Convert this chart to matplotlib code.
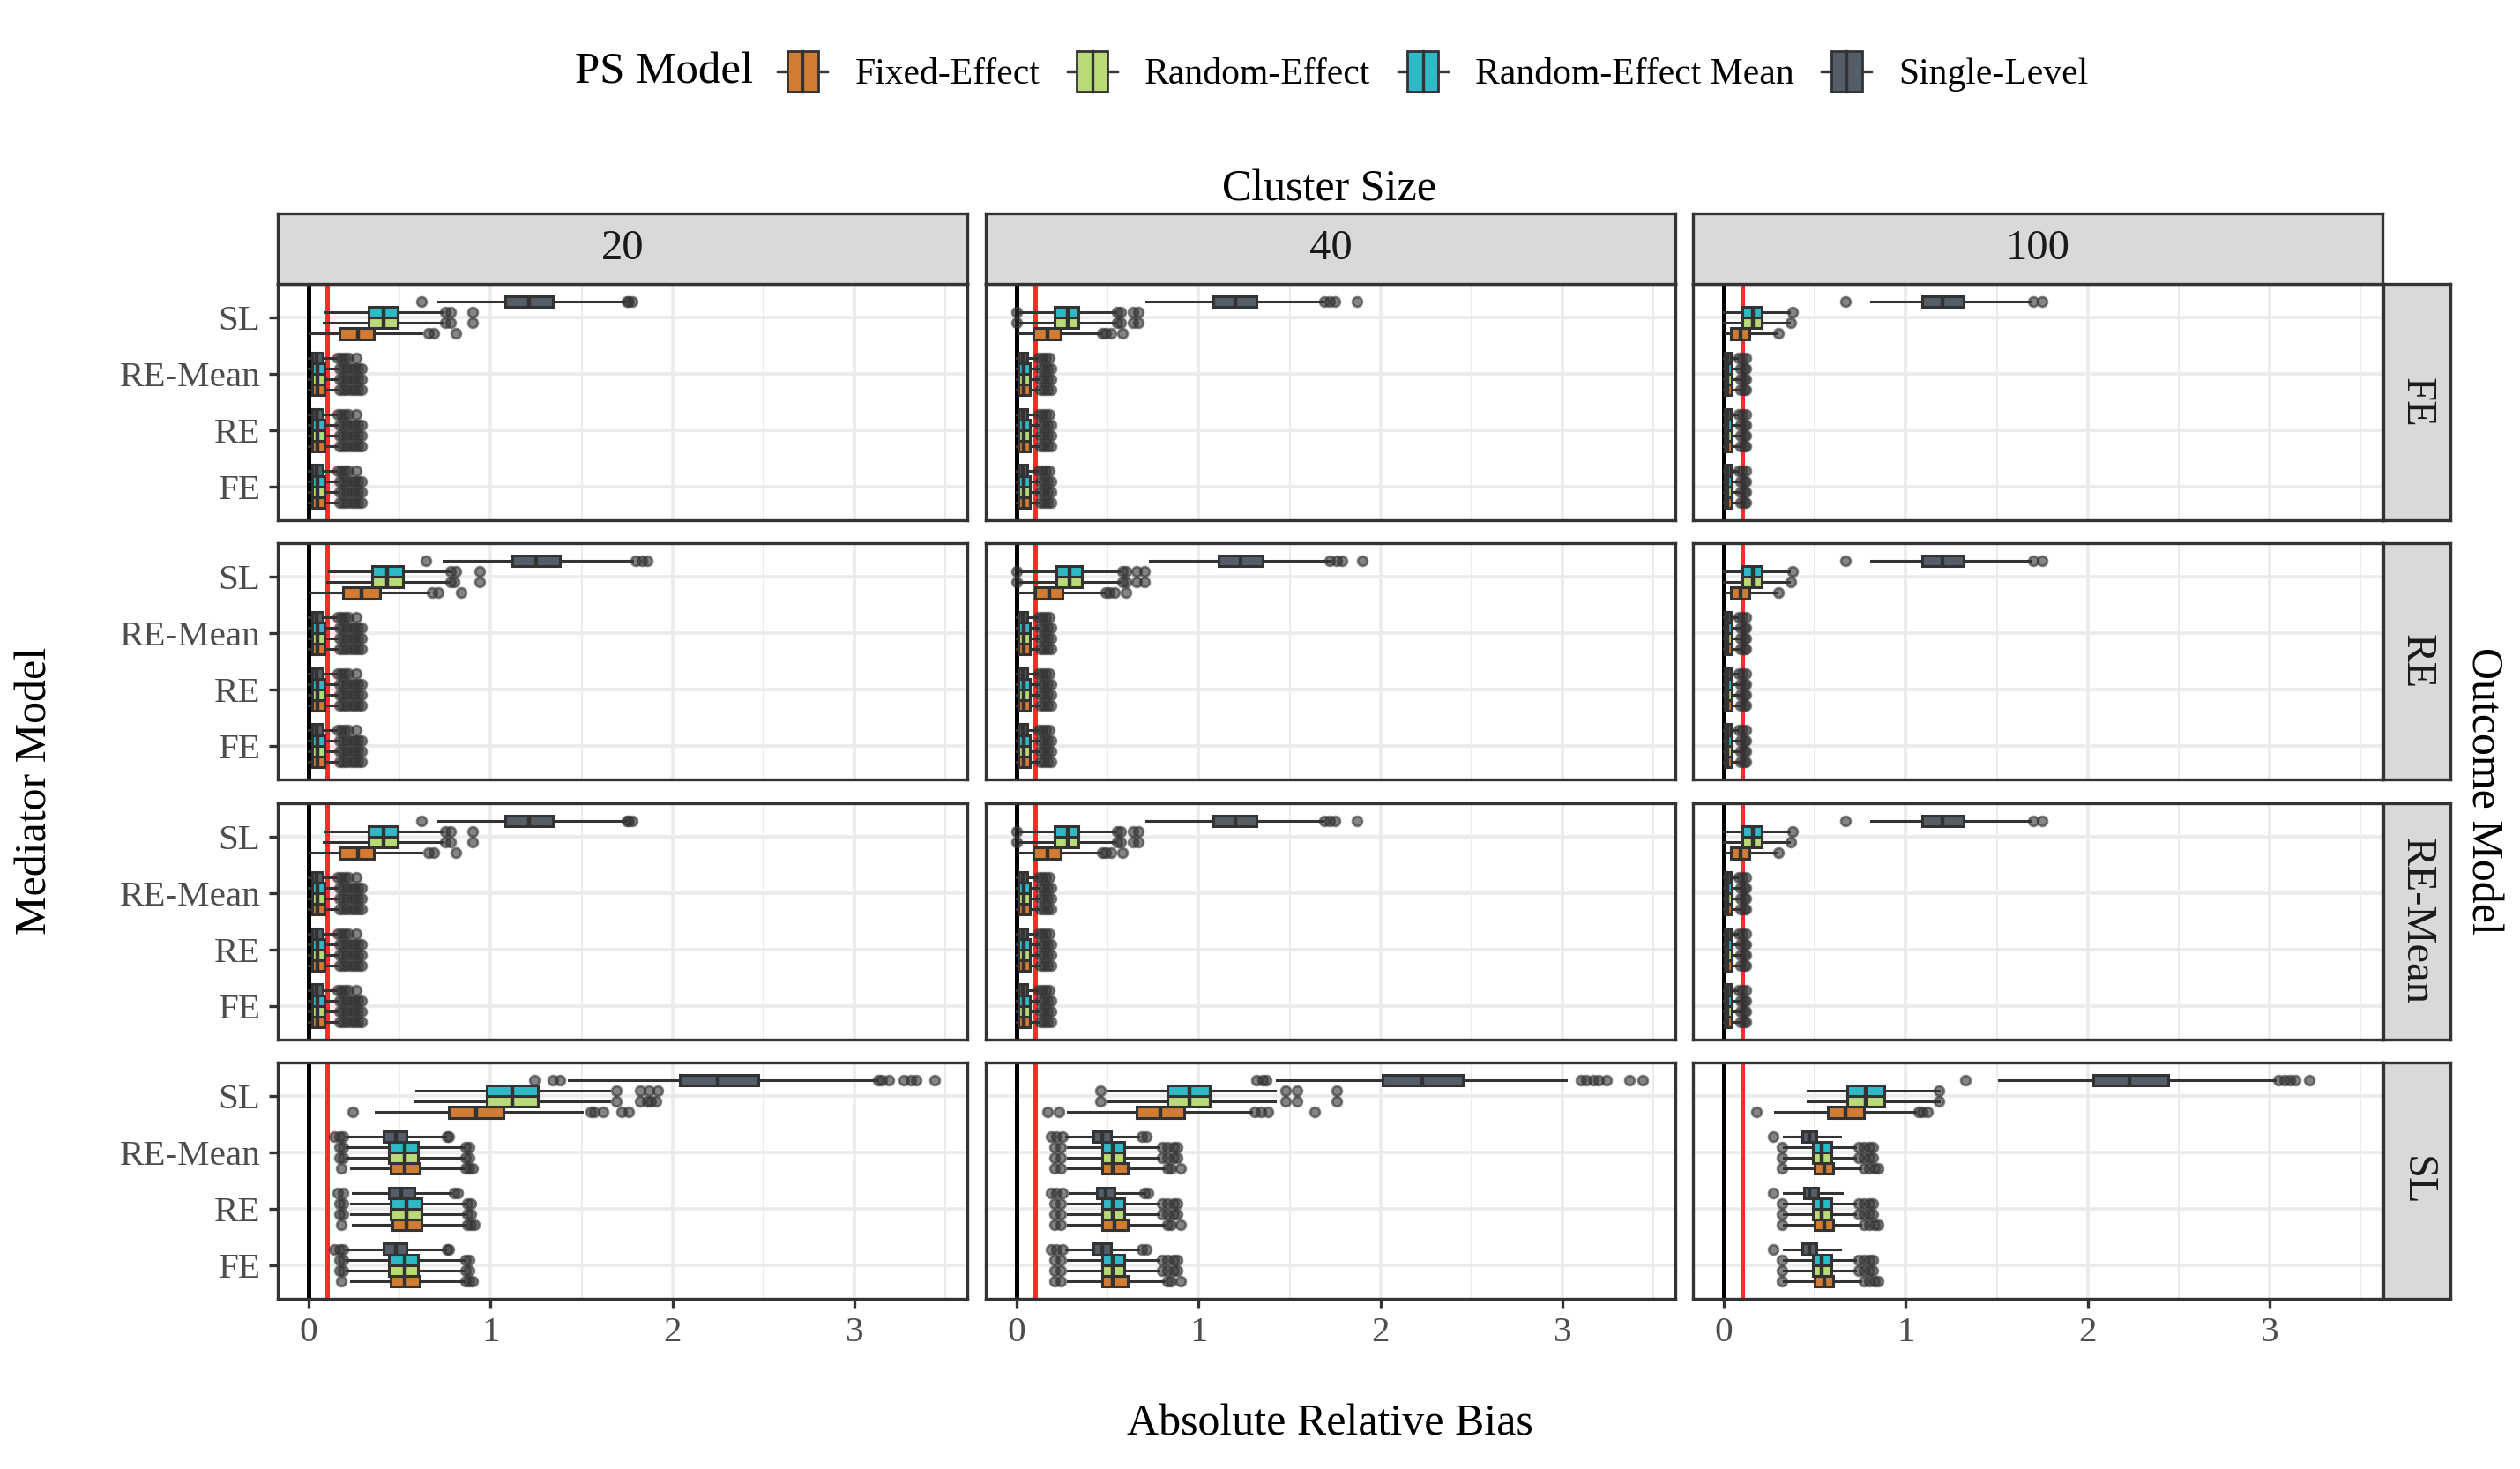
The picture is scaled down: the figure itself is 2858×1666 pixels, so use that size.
import numpy as np
import matplotlib.pyplot as plt
from matplotlib.patches import Rectangle
from matplotlib.lines import Line2D
from matplotlib.legend_handler import HandlerBase

plt.rcParams['font.family'] = ['Liberation Serif', 'DejaVu Serif']

cluster_sizes = ["20", "40", "100"]
outcome_models = ["FE", "RE", "RE-Mean", "SL"]
mediator_models = ["FE", "RE", "RE-Mean", "SL"]
ps_models = ["Fixed-Effect", "Random-Effect", "Random-Effect Mean", "Single-Level"]
ps_colors = ["#D27B33", "#BAD977", "#2FB8C6", "#555D67"]

# box summaries: [lower whisker, Q1, median, Q3, upper whisker]
# mediator = SL, indexed [outcome][cluster][ps model]
sl_mediator_box = [
    [[[0.01, 0.17, 0.27, 0.36, 0.62], [0.08, 0.33, 0.41, 0.49, 0.73], [0.09, 0.33, 0.41, 0.49, 0.73], [0.71, 1.08, 1.21, 1.34, 1.74]],
     [[0.01, 0.09, 0.17, 0.24, 0.46], [0.02, 0.21, 0.28, 0.34, 0.54], [0.02, 0.21, 0.28, 0.34, 0.54], [0.71, 1.08, 1.20, 1.32, 1.68]],
     [[0.01, 0.04, 0.09, 0.14, 0.29], [0.00, 0.10, 0.16, 0.21, 0.36], [0.00, 0.10, 0.16, 0.21, 0.36], [0.81, 1.09, 1.20, 1.32, 1.68]]],
    [[[0.01, 0.19, 0.29, 0.39, 0.66], [0.10, 0.35, 0.43, 0.52, 0.77], [0.11, 0.35, 0.43, 0.52, 0.77], [0.74, 1.12, 1.25, 1.38, 1.78]],
     [[0.01, 0.10, 0.18, 0.25, 0.48], [0.02, 0.22, 0.29, 0.36, 0.56], [0.02, 0.22, 0.29, 0.36, 0.56], [0.73, 1.11, 1.23, 1.35, 1.72]],
     [[0.01, 0.04, 0.09, 0.14, 0.29], [0.00, 0.10, 0.16, 0.21, 0.36], [0.00, 0.10, 0.16, 0.21, 0.36], [0.81, 1.09, 1.20, 1.32, 1.68]]],
    [[[0.01, 0.17, 0.27, 0.36, 0.62], [0.08, 0.33, 0.41, 0.49, 0.73], [0.09, 0.33, 0.41, 0.49, 0.73], [0.71, 1.08, 1.21, 1.34, 1.74]],
     [[0.01, 0.09, 0.17, 0.24, 0.46], [0.02, 0.21, 0.28, 0.34, 0.54], [0.02, 0.21, 0.28, 0.34, 0.54], [0.71, 1.08, 1.20, 1.32, 1.68]],
     [[0.01, 0.04, 0.09, 0.14, 0.29], [0.00, 0.10, 0.16, 0.21, 0.36], [0.00, 0.10, 0.16, 0.21, 0.36], [0.81, 1.09, 1.20, 1.32, 1.68]]],
    [[[0.37, 0.77, 0.92, 1.07, 1.50], [0.58, 0.98, 1.12, 1.26, 1.65], [0.59, 0.98, 1.12, 1.26, 1.65], [1.43, 2.04, 2.25, 2.47, 3.12]],
     [[0.28, 0.66, 0.79, 0.92, 1.29], [0.50, 0.83, 0.95, 1.06, 1.42], [0.50, 0.83, 0.95, 1.06, 1.42], [1.43, 2.01, 2.23, 2.45, 3.02]],
     [[0.28, 0.57, 0.67, 0.77, 1.05], [0.46, 0.68, 0.78, 0.88, 1.18], [0.46, 0.68, 0.78, 0.88, 1.18], [1.51, 2.03, 2.23, 2.44, 3.03]]],
]
sl_mediator_out = [
    [[[0.66, 0.69, 0.81], [0.75, 0.78, 0.90], [0.75, 0.78, 0.90], [0.62, 1.75, 1.76, 1.78]],
     [[0.47, 0.49, 0.52, 0.58], [0.0, 0.55, 0.57, 0.64, 0.67], [0.0, 0.55, 0.57, 0.64, 0.67], [1.69, 1.72, 1.75, 1.87]],
     [[0.30], [0.37], [0.38], [0.67, 1.70, 1.75]]],
    [[[0.68, 0.71, 0.84], [0.78, 0.80, 0.94], [0.78, 0.81, 0.94], [0.645, 1.80, 1.83, 1.86]],
     [[0.49, 0.51, 0.54, 0.60], [0.0, 0.58, 0.60, 0.66, 0.70], [0.0, 0.58, 0.60, 0.66, 0.70], [1.72, 1.76, 1.79, 1.90]],
     [[0.30], [0.37], [0.38], [0.67, 1.70, 1.75]]],
    [[[0.66, 0.69, 0.81], [0.75, 0.78, 0.90], [0.75, 0.78, 0.90], [0.62, 1.75, 1.76, 1.78]],
     [[0.47, 0.49, 0.52, 0.58], [0.0, 0.55, 0.57, 0.64, 0.67], [0.0, 0.55, 0.57, 0.64, 0.67], [1.69, 1.72, 1.75, 1.87]],
     [[0.30], [0.37], [0.38], [0.67, 1.70, 1.75]]],
    [[[0.24, 1.55, 1.57, 1.62, 1.72, 1.76], [1.69, 1.82, 1.86, 1.88, 1.91], [1.69, 1.82, 1.87, 1.92],
      [1.24, 1.34, 1.38, 3.13, 3.15, 3.19, 3.27, 3.31, 3.34, 3.44]],
     [[0.17, 0.23, 1.31, 1.34, 1.38, 1.64], [0.46, 1.48, 1.54, 1.76], [0.46, 1.48, 1.54, 1.76],
      [1.32, 1.35, 1.37, 3.10, 3.13, 3.17, 3.20, 3.24, 3.37, 3.44]],
     [[0.18, 1.07, 1.09, 1.12], [1.18], [1.18], [1.33, 3.05, 3.08, 3.11, 3.14, 3.22]]],
]

# mediators FE / RE / RE-Mean under outcomes FE / RE / RE-Mean, [cluster][ps model]
small_box = [
    [[0.0, 0.02, 0.05, 0.085, 0.16], [0.0, 0.02, 0.05, 0.085, 0.16], [0.0, 0.02, 0.05, 0.085, 0.16], [0.0, 0.02, 0.045, 0.075, 0.15]],
    [[0.0, 0.01, 0.04, 0.07, 0.12], [0.0, 0.01, 0.04, 0.07, 0.12], [0.0, 0.01, 0.04, 0.07, 0.12], [0.0, 0.01, 0.035, 0.06, 0.11]],
    [[0.0, 0.005, 0.02, 0.045, 0.08], [0.0, 0.005, 0.02, 0.045, 0.08], [0.0, 0.005, 0.02, 0.045, 0.08], [0.0, 0.005, 0.02, 0.04, 0.07]],
]
small_out = [
    [[0.17, 0.19, 0.21, 0.23, 0.25, 0.27, 0.29], [0.17, 0.19, 0.21, 0.23, 0.25, 0.27, 0.29],
     [0.17, 0.19, 0.21, 0.23, 0.25, 0.27, 0.29], [0.16, 0.18, 0.20, 0.22, 0.26]],
    [[0.13, 0.15, 0.17, 0.19], [0.13, 0.15, 0.17, 0.19], [0.13, 0.15, 0.17, 0.19], [0.12, 0.14, 0.16, 0.18]],
    [[0.09, 0.11, 0.12], [0.09, 0.11, 0.12], [0.09, 0.11, 0.12], [0.08, 0.10, 0.12]],
]

# outcome SL, mediators FE / RE / RE-Mean, [cluster][mediator][ps model]
sl_outcome_box = [
    [[[0.23, 0.45, 0.53, 0.61, 0.85], [0.21, 0.44, 0.53, 0.60, 0.85], [0.21, 0.44, 0.53, 0.60, 0.85], [0.21, 0.41, 0.48, 0.54, 0.75]],
     [[0.24, 0.46, 0.54, 0.62, 0.86], [0.23, 0.45, 0.54, 0.62, 0.86], [0.23, 0.45, 0.54, 0.62, 0.86], [0.24, 0.44, 0.51, 0.58, 0.78]],
     [[0.23, 0.45, 0.53, 0.61, 0.85], [0.21, 0.44, 0.53, 0.60, 0.85], [0.21, 0.44, 0.53, 0.60, 0.85], [0.21, 0.41, 0.48, 0.54, 0.75]]],
    [[[0.28, 0.47, 0.53, 0.61, 0.81], [0.28, 0.47, 0.53, 0.59, 0.78], [0.28, 0.47, 0.53, 0.59, 0.78], [0.27, 0.42, 0.47, 0.52, 0.67]],
     [[0.28, 0.47, 0.54, 0.61, 0.81], [0.28, 0.47, 0.53, 0.59, 0.78], [0.28, 0.47, 0.53, 0.59, 0.78], [0.29, 0.44, 0.49, 0.54, 0.70]],
     [[0.28, 0.47, 0.53, 0.61, 0.81], [0.28, 0.47, 0.53, 0.59, 0.78], [0.28, 0.47, 0.53, 0.59, 0.78], [0.27, 0.42, 0.47, 0.52, 0.67]]],
    [[[0.33, 0.50, 0.55, 0.60, 0.75], [0.33, 0.49, 0.54, 0.59, 0.72], [0.33, 0.49, 0.54, 0.59, 0.72], [0.33, 0.43, 0.47, 0.51, 0.64]],
     [[0.33, 0.50, 0.55, 0.60, 0.75], [0.33, 0.49, 0.54, 0.59, 0.72], [0.33, 0.49, 0.54, 0.59, 0.72], [0.33, 0.44, 0.47, 0.52, 0.65]],
     [[0.33, 0.50, 0.55, 0.60, 0.75], [0.33, 0.49, 0.54, 0.59, 0.72], [0.33, 0.49, 0.54, 0.59, 0.72], [0.33, 0.43, 0.47, 0.51, 0.64]]],
]
sl_outcome_out = [
    [[[0.18, 0.86, 0.88, 0.90], [0.17, 0.19, 0.86, 0.88], [0.17, 0.19, 0.86, 0.88], [0.14, 0.17, 0.19, 0.76, 0.77]],
     [[0.18, 0.87, 0.89, 0.91], [0.17, 0.19, 0.87, 0.89], [0.17, 0.19, 0.87, 0.89], [0.16, 0.19, 0.80, 0.82]],
     [[0.18, 0.86, 0.88, 0.90], [0.17, 0.19, 0.86, 0.88], [0.17, 0.19, 0.86, 0.88], [0.14, 0.17, 0.19, 0.76, 0.77]]],
    [[[0.21, 0.24, 0.83, 0.85, 0.90], [0.21, 0.24, 0.80, 0.83, 0.86, 0.88], [0.21, 0.24, 0.80, 0.83, 0.86, 0.88], [0.19, 0.22, 0.25, 0.69, 0.71]],
     [[0.21, 0.24, 0.83, 0.85, 0.90], [0.21, 0.24, 0.80, 0.83, 0.86, 0.88], [0.21, 0.24, 0.80, 0.83, 0.86, 0.88], [0.19, 0.22, 0.25, 0.70, 0.72]],
     [[0.21, 0.24, 0.83, 0.85, 0.90], [0.21, 0.24, 0.80, 0.83, 0.86, 0.88], [0.21, 0.24, 0.80, 0.83, 0.86, 0.88], [0.19, 0.22, 0.25, 0.69, 0.71]]],
    [[[0.32, 0.77, 0.80, 0.83, 0.85], [0.32, 0.74, 0.77, 0.80, 0.82], [0.32, 0.74, 0.77, 0.80, 0.82], [0.27]],
     [[0.32, 0.77, 0.80, 0.83, 0.85], [0.32, 0.74, 0.77, 0.80, 0.82], [0.32, 0.74, 0.77, 0.80, 0.82], [0.27]],
     [[0.32, 0.77, 0.80, 0.83, 0.85], [0.32, 0.74, 0.77, 0.80, 0.82], [0.32, 0.74, 0.77, 0.80, 0.82], [0.27]]],
]


def box_for(i, j, k, p):
    # i outcome, j cluster, k mediator, p ps model
    if k == 3:
        return sl_mediator_box[i][j][p], sl_mediator_out[i][j][p]
    if i == 3:
        return sl_outcome_box[j][k][p], sl_outcome_out[j][k][p]
    return small_box[j][p], small_out[j][p]


# layout in pixels of the 2858 x 1666 image
W, H = 2858, 1666
col_left = [315, 1118, 1920]
row_top = [322, 616, 911, 1205]
panel_w, panel_h = 782, 268


def rect(left, top, w, h):
    return [left / W, 1 - (top + h) / H, w / W, h / H]


dark = "#333333"
offsets = [-0.285, -0.095, 0.095, 0.285]

fig = plt.figure(figsize=(W / 200, H / 200), dpi=200)

for i in range(4):
    for j in range(3):
        ax = fig.add_axes(rect(col_left[j], row_top[i], panel_w, panel_h))
        for p in range(4):
            stats = []
            pos = []
            for k in range(4):
                b, o = box_for(i, j, k, p)
                stats.append(dict(whislo=b[0], q1=b[1], med=b[2], q3=b[3], whishi=b[4], fliers=o))
                pos.append(k + 1 + offsets[p])
            ax.bxp(stats, positions=pos, widths=0.19, orientation='horizontal', patch_artist=True,
                   showcaps=False, manage_ticks=False,
                   boxprops=dict(facecolor=ps_colors[p], edgecolor=dark, linewidth=1.1),
                   medianprops=dict(color=dark, linewidth=1.6),
                   whiskerprops=dict(color=dark, linewidth=1.1),
                   flierprops=dict(marker='o', markerfacecolor=dark, markeredgecolor=dark,
                                   markersize=3.9, alpha=0.6))
        ax.axvline(0, color='black', lw=1.8, zorder=1.5)
        ax.axvline(0.1, color='#FF2B2B', lw=1.8, zorder=1.5)

        ax.set_xlim(-0.17, 3.62)
        ax.set_ylim(0.4, 4.6)
        ax.set_xticks([0, 1, 2, 3])
        ax.set_xticks([0.5, 1.5, 2.5, 3.5], minor=True)
        ax.set_yticks([1, 2, 3, 4])
        ax.set_axisbelow(True)
        ax.grid(which='major', color='#EBEBEB', lw=1.3)
        ax.grid(which='minor', axis='x', color='#EBEBEB', lw=0.7)
        for s in ax.spines.values():
            s.set_color(dark)
            s.set_linewidth(1.2)
        ax.tick_params(which='minor', length=0)
        ax.tick_params(which='major', length=3.6, width=1.2, color=dark, labelcolor='#4D4D4D',
                       labelsize=14.8, pad=3.5, left=(j == 0), bottom=(i == 3),
                       labelleft=(j == 0), labelbottom=(i == 3))
        if j == 0:
            ax.set_yticklabels(mediator_models)
        if i == 3:
            ax.set_xticklabels(["0", "1", "2", "3"])

# facet strips
for j, cl in enumerate(cluster_sizes):
    sax = fig.add_axes(rect(col_left[j], 242, panel_w, 80))
    sax.set_facecolor('#D9D9D9')
    sax.set_xticks([])
    sax.set_yticks([])
    for s in sax.spines.values():
        s.set_color(dark)
        s.set_linewidth(1.2)
    sax.text(0.5, 0.5, cl, ha='center', va='center', fontsize=17.5, color='#1A1A1A',
             transform=sax.transAxes)

for i, om in enumerate(outcome_models):
    rax = fig.add_axes(rect(2703, row_top[i], 76, panel_h))
    rax.set_facecolor('#D9D9D9')
    rax.set_xticks([])
    rax.set_yticks([])
    for s in rax.spines.values():
        s.set_color(dark)
        s.set_linewidth(1.2)
    rax.text(0.5, 0.5, om, ha='center', va='center', rotation=-90, fontsize=17.5,
             color='#1A1A1A', transform=rax.transAxes)

# titles
fig.text(1508 / W, 1 - 215 / H, "Cluster Size", ha='center', va='center', fontsize=18)
fig.text(1508 / W, 1 - 1615 / H, "Absolute Relative Bias", ha='center', va='center', fontsize=18)
fig.text(40 / W, 1 - 897 / H, "Mediator Model", ha='center', va='center', rotation=90, fontsize=18)
fig.text(2816 / W, 1 - 897 / H, "Outcome Model", ha='center', va='center', rotation=-90, fontsize=18)


# legend with boxplot-shaped keys
class BoxKey(HandlerBase):
    def create_artists(self, legend, orig_handle, xdescent, ydescent, width, height, fontsize, trans):
        c = orig_handle.get_facecolor()
        bw = width * 0.62
        x0 = -xdescent + (width - bw) / 2
        y0 = -ydescent
        ym = y0 + height / 2
        w1 = Line2D([-xdescent, x0], [ym, ym], color=dark, lw=1.2, transform=trans)
        w2 = Line2D([x0 + bw, -xdescent + width], [ym, ym], color=dark, lw=1.2, transform=trans)
        r = Rectangle((x0, y0), bw, height, facecolor=c, edgecolor=dark, lw=1.0, transform=trans)
        m = Line2D([x0 + bw / 2] * 2, [y0, y0 + height], color=dark, lw=1.2, transform=trans)
        return [w1, w2, r, m]


handles = [Rectangle((0, 0), 1, 1, facecolor=c) for c in ps_colors]
fig.text(753 / W, 1 - 82 / H, "PS Model", ha='center', va='center', fontsize=18.3)
fig.legend(handles, ps_models, handler_map={Rectangle: BoxKey()}, loc='center left',
           bbox_to_anchor=(882 / W, 1 - 81 / H), ncol=4, frameon=False, fontsize=15,
           handlelength=1.35, handleheight=1.35, handletextpad=0.75, columnspacing=0.75,
           borderpad=0, borderaxespad=0)

fig.savefig("out.png", dpi=200)
